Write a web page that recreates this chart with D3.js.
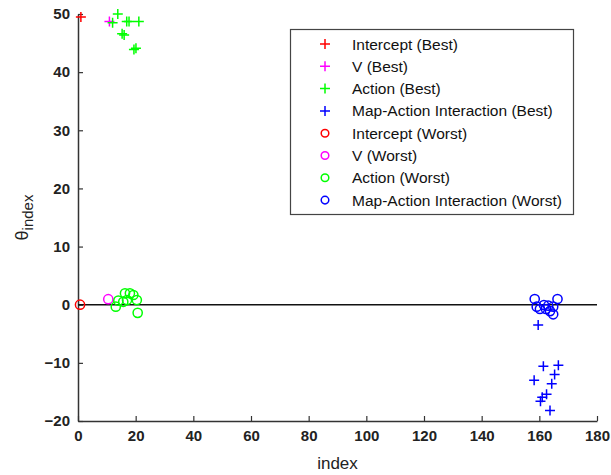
<!DOCTYPE html>
<html><head><meta charset="utf-8">
<script src="https://cdn.jsdelivr.net/npm/d3@7"></script>
<style>body{margin:0;background:#fff}svg{display:block}text{font-family:"Liberation Sans",Arial,sans-serif}</style>
</head><body><div id="chart"></div>
<script>
const xTicks = [0,20,40,60,80,100,120,140,160,180];
const yTicks = [-20,-10,0,10,20,30,40,50];

const interceptBest = [[1,49.5]];
const vBest = [[10.9,48.7]];
const actionBest = [[13.8,50.0],[12.0,48.5],[16.9,48.7],[17.7,48.7],[21.1,48.7],[15.3,46.6],[16.0,46.4],[19.4,43.9],[20.1,44.1]];
const mapBest = [[159.6,-3.5],[161.4,-10.6],[166.6,-10.4],[165.3,-12.0],[158.2,-13.0],[164.3,-13.6],[162.5,-15.4],[160.4,-16.6],[161.0,-15.9],[163.7,-18.2]];
const interceptWorst = [[0.7,0.0]];
const vWorst = [[10.5,0.95]];
const actionWorst = [[13.1,-0.34],[14.0,0.7],[15.7,0.5],[16.3,1.96],[17.0,0.8],[18.0,1.96],[19.2,1.67],[20.4,0.8],[20.7,-1.4]];
const mapWorst = [[158.4,0.98],[166.3,0.98],[159.1,-0.34],[160.2,-0.74],[161.6,-0.05],[162.3,-0.74],[163.1,-0.17],[163.7,-1.1],[164.8,-0.34],[164.8,-1.65]];

const series = [
  {name:"Intercept (Best)", color:"#ff0000", shape:"plus", data:interceptBest},
  {name:"V (Best)", color:"#ff00ff", shape:"plus", data:vBest},
  {name:"Action (Best)", color:"#00ff00", shape:"plus", data:actionBest},
  {name:"Map-Action Interaction (Best)", color:"#0000ff", shape:"plus", data:mapBest},
  {name:"Intercept (Worst)", color:"#ff0000", shape:"circle", data:interceptWorst},
  {name:"V (Worst)", color:"#ff00ff", shape:"circle", data:vWorst},
  {name:"Action (Worst)", color:"#00ff00", shape:"circle", data:actionWorst},
  {name:"Map-Action Interaction (Worst)", color:"#0000ff", shape:"circle", data:mapWorst}
];

const W=611,H=475;
const svg=d3.select("#chart").append("svg").attr("width",W).attr("height",H);
const x=d3.scaleLinear().domain([0,180]).range([78,597]);
const y=d3.scaleLinear().domain([-20,50]).range([421,14]);

// axes
const xa=svg.append("g").attr("transform",`translate(0,${y(-20)})`)
  .call(d3.axisBottom(x).tickValues(xTicks).tickSizeInner(-5).tickSizeOuter(0).tickPadding(9));
const ya=svg.append("g").attr("transform",`translate(${x(0)},0)`)
  .call(d3.axisLeft(y).tickValues(yTicks).tickSizeInner(-5).tickSizeOuter(0).tickPadding(8));
[xa,ya].forEach(g=>{
  g.select(".domain").attr("stroke","#333").attr("stroke-width",1.5);
  g.selectAll(".tick line").attr("stroke","#333").attr("stroke-width",1.2);
  g.selectAll(".tick text").attr("font-size",15).attr("font-weight","bold").attr("fill","#222")
   .attr("font-family","'Liberation Sans',Arial,sans-serif");
});

// zero line
svg.append("line").attr("x1",x(0)).attr("x2",x(180)).attr("y1",y(0)).attr("y2",y(0))
  .attr("stroke","#111").attr("stroke-width",1.5);

// axis labels
svg.append("text").attr("x",(x(0)+x(180))/2).attr("y",469).attr("text-anchor","middle")
  .attr("font-size",17).attr("fill","#222").text("index");
const yl=svg.append("text").attr("transform",`translate(28,${(y(-20)+y(50))/2}) rotate(-90)`)
  .attr("text-anchor","middle").attr("font-size",18).attr("fill","#222");
yl.append("tspan").text("θ");
yl.append("tspan").attr("font-size",15).attr("dy",5).text("index");

function drawMarker(g,shape,color,cx,cy){
  if(shape==="plus"){
    const s=5;
    g.append("path").attr("d",`M${cx-s},${cy}H${cx+s}M${cx},${cy-s}V${cy+s}`)
      .attr("stroke",color).attr("stroke-width",1.5).attr("fill","none");
  } else {
    g.append("circle").attr("cx",cx).attr("cy",cy).attr("r",4.6)
      .attr("stroke",color).attr("stroke-width",1.5).attr("fill","none");
  }
}
const mg=svg.append("g");
series.forEach(s=>{
  s.data.forEach(d=>drawMarker(mg,s.shape,s.color,x(d[0]),y(d[1])));
});

// legend
const lg=svg.append("g");
lg.append("rect").attr("x",290.5).attr("y",29.5).attr("width",283).attr("height",185)
  .attr("fill","#fff").attr("stroke","#444").attr("stroke-width",1.2);
series.forEach((s,i)=>{
  const cy=44+i*22.3;
  if(s.shape==="plus") drawMarker(lg,"plus",s.color,325,cy);
  else { lg.append("circle").attr("cx",325).attr("cy",cy).attr("r",3.8).attr("stroke",s.color).attr("stroke-width",1.5).attr("fill","none"); }
  lg.append("text").attr("x",352).attr("y",cy+5.5).attr("font-size",15.5).attr("fill","#111").text(s.name);
});
</script></body></html>
